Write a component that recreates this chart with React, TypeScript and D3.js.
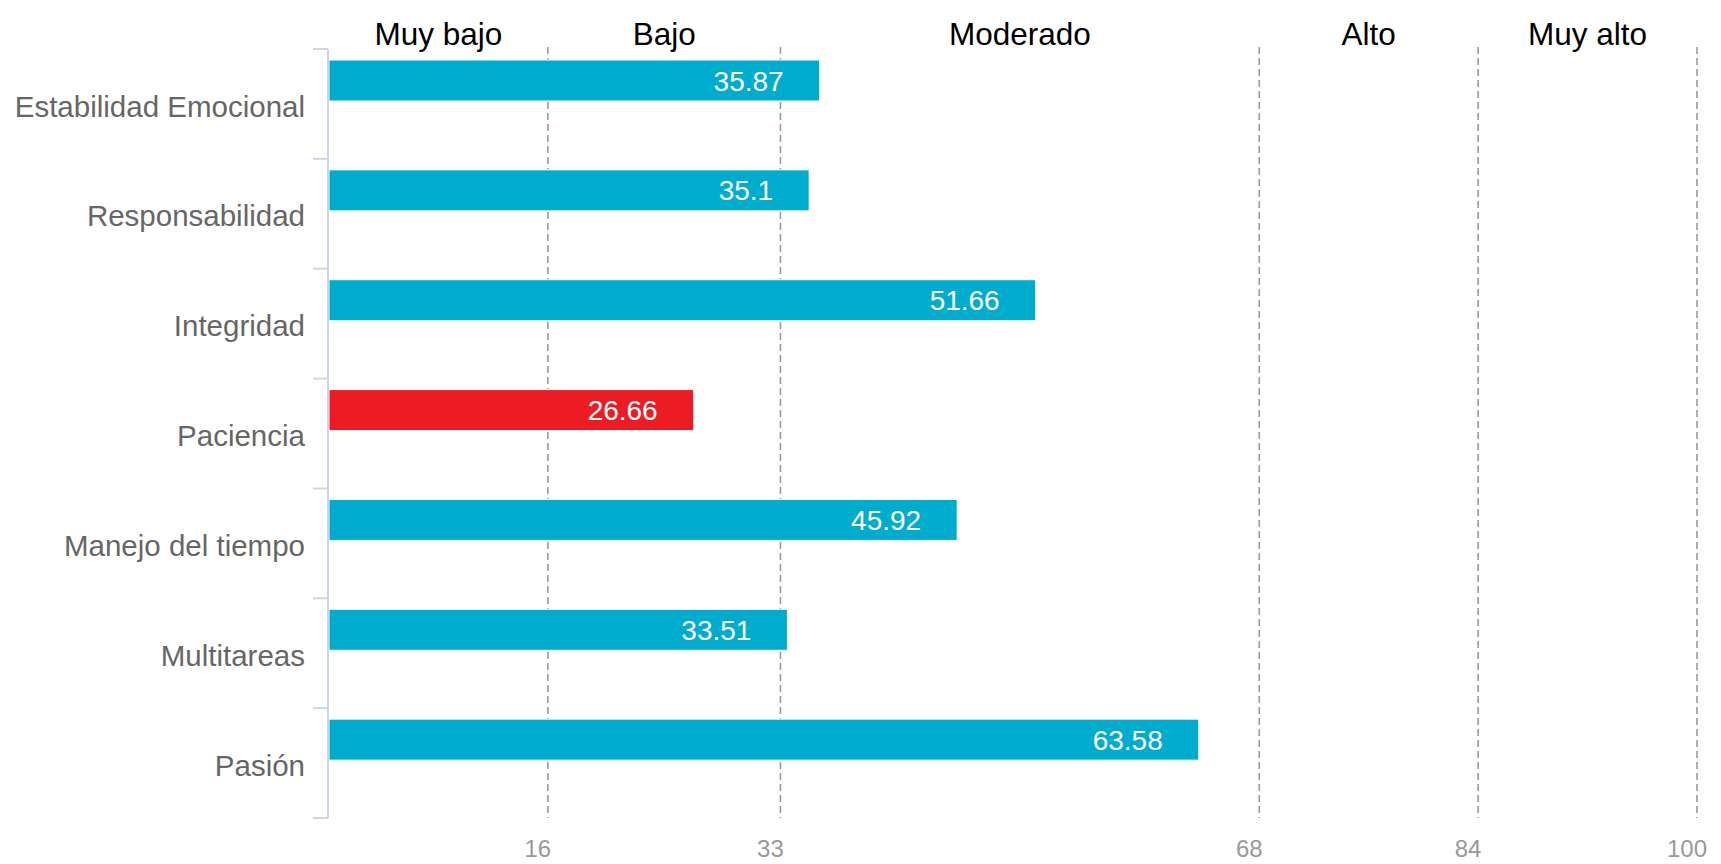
import React from "react";
import * as d3 from "d3";

const categories = [
  "Estabilidad Emocional",
  "Responsabilidad",
  "Integridad",
  "Paciencia",
  "Manejo del tiempo",
  "Multitareas",
  "Pasión",
];
const values = [35.87, 35.1, 51.66, 26.66, 45.92, 33.51, 63.58];
const thresholds = [16, 33, 68, 84, 100];
const levelNames = ["Muy bajo", "Bajo", "Moderado", "Alto", "Muy alto"];
const highlighted = ["Paciencia"];

const W = 1721;
const H = 864;
const FONT = "'Liberation Sans', Arial, Helvetica, sans-serif";

export default function App() {
  const x = d3.scaleLinear().domain([0, 100]).range([329, 1697]);
  const y = d3.scaleBand<string>().domain(categories).range([49, 818]).padding(0);
  const bw = y.bandwidth();
  const axisX = 328;
  const bounds = [0, ...thresholds];
  const boundaries = d3.range(categories.length + 1).map((i) => 49 + i * bw);

  return (
    <svg
      width={W}
      height={H}
      style={{ position: "absolute", left: 0, top: 0, background: "#fff" }}
      fontFamily={FONT}
    >
      {thresholds.map((t) => (
        <line
          key={"g" + t}
          x1={x(t)}
          x2={x(t)}
          y1={47}
          y2={818}
          stroke="#9a9a9a"
          strokeWidth={1.6}
          strokeDasharray="7 4"
        />
      ))}
      {categories.map((c, i) => {
        const y0 = (y(c) as number) + 11;
        const h = 41;
        const fill = highlighted.includes(c) ? "#ED1C24" : "#00ACCD";
        return (
          <g key={c}>
            <rect
              x={x(0)}
              y={y0}
              width={x(values[i]) - x(0)}
              height={h}
              fill={fill}
              stroke="#fff"
              strokeWidth={1}
            />
            <text
              x={x(values[i]) - 36}
              y={y0 + h / 2}
              dy="0.36em"
              textAnchor="end"
              fill="#fff"
              fontSize={28}
            >
              {values[i]}
            </text>
          </g>
        );
      })}
      <line x1={axisX} x2={axisX} y1={49} y2={818} stroke="#ccd6eb" strokeWidth={2} />
      {boundaries.map((b, i) => (
        <line key={"t" + i} x1={313} x2={axisX} y1={b} y2={b} stroke="#ccd6eb" strokeWidth={2} />
      ))}
      {categories.map((c) => (
        <text
          key={"l" + c}
          x={305}
          y={(y(c) as number) + bw / 2 + 2}
          dy="0.36em"
          textAnchor="end"
          fill="#666666"
          fontSize={29.5}
        >
          {c}
        </text>
      ))}
      {levelNames.map((n, i) => (
        <text
          key={"n" + n}
          x={(x(bounds[i]) + x(bounds[i + 1])) / 2}
          y={34}
          dy="0.36em"
          textAnchor="middle"
          fill="#000"
          fontSize={31.5}
        >
          {n}
        </text>
      ))}
      {thresholds.map((t) => (
        <text
          key={"x" + t}
          x={x(t) - 10}
          y={848}
          dy="0.36em"
          textAnchor="middle"
          fill="#999999"
          fontSize={24}
        >
          {t}
        </text>
      ))}
    </svg>
  );
}
